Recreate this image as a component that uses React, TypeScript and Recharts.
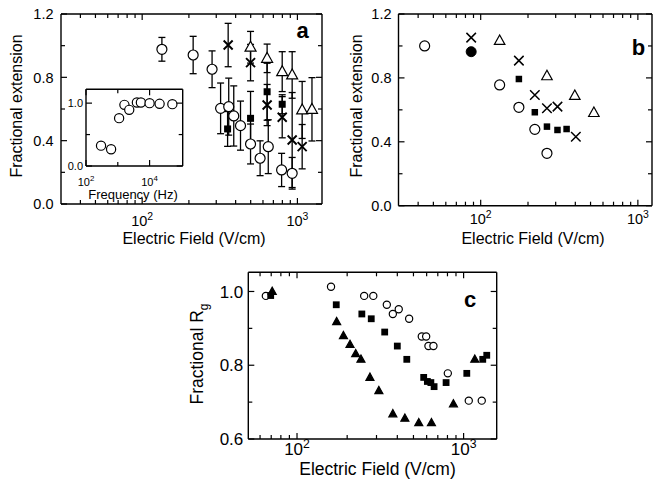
import React from 'react';
import { ScatterChart, Scatter, XAxis, YAxis, ErrorBar, ReferenceLine } from 'recharts';

const FONT = '"Liberation Sans", Arial, Helvetica, sans-serif';
const W = 654;
const H = 492;

// panel a: fractional extension vs field, with error bars
const aCircleField = [134, 213, 282, 320, 361, 389, 430, 499, 575, 649, 791, 925];
const aCircleExt = [0.977, 0.941, 0.851, 0.604, 0.615, 0.556, 0.495, 0.379, 0.289, 0.362, 0.215, 0.194];
const aCircleErr = [0.075, 0.118, 0.116, 0.16, 0.18, 0.19, 0.155, 0.126, 0.11, 0.17, 0.105, 0.1];
const aSquareField = [355, 499, 638, 798];
const aSquareExt = [0.474, 0.541, 0.709, 0.63];
const aSquareErr = [0.11, 0.17, 0.18, 0.06];
const aCrossField = [358, 499, 638, 798, 925, 1073];
const aCrossExt = [1.004, 0.893, 0.625, 0.548, 0.404, 0.362];
const aCrossErr = [0.137, 0.115, 0.13, 0.13, 0.3, 0.14];
const aTriField = [499, 638, 798, 925, 1073, 1241];
const aTriExt = [0.99, 0.92, 0.836, 0.815, 0.594, 0.598];
const aTriErr = [0.1, 0.09, 0.126, 0.147, 0.18, 0.2];

// inset: fractional extension vs frequency
const insetFreq = [297, 615, 1100, 1615, 2290, 3990, 5330, 10000, 20650, 52000];
const insetExt = [0.324, 0.266, 0.761, 0.973, 0.893, 1.01, 1.01, 1.0, 0.989, 0.984];

// panel b
const bCircleField = [44, 132, 175, 221, 264];
const bCircleExt = [1.0, 0.756, 0.616, 0.478, 0.328];
const bDotField = [87];
const bDotExt = [0.964];
const bCrossField = [87, 175, 221, 264, 308, 403];
const bCrossExt = [1.052, 0.908, 0.693, 0.61, 0.62, 0.432];
const bSquareField = [175, 221, 264, 308, 352];
const bSquareExt = [0.793, 0.585, 0.495, 0.474, 0.48];
const bTriField = [132, 264, 397, 525];
const bTriExt = [1.033, 0.812, 0.689, 0.582];

// panel c: fractional Rg
const cCircleField = [65, 160, 253, 287, 346, 376, 408, 471, 561, 596, 615, 659, 804, 1074, 1285];
const cCircleRg = [0.988, 1.013, 0.988, 0.988, 0.964, 0.939, 0.952, 0.926, 0.878, 0.878, 0.852, 0.852, 0.778, 0.704, 0.704];
const cSquareField = [69.5, 172, 245, 279, 336, 400, 456, 576, 606, 636, 665, 785, 1045, 1303, 1377];
const cSquareRg = [0.989, 0.964, 0.939, 0.926, 0.89, 0.852, 0.816, 0.767, 0.756, 0.753, 0.742, 0.753, 0.778, 0.816, 0.827];
const cTriField = [71, 173, 190, 208, 225, 242, 274, 310, 376, 444, 538, 641, 869, 1167];
const cTriRg = [1.0, 0.918, 0.88, 0.856, 0.831, 0.816, 0.767, 0.731, 0.668, 0.656, 0.644, 0.644, 0.695, 0.816];

// ticks
const abFieldTicks = [40, 50, 60, 70, 80, 90, 100, 200, 300, 400, 500, 600, 700, 800, 900, 1000];
const cFieldTicks = [60, 70, 80, 90, 100, 200, 300, 400, 500, 600, 700, 800, 900, 1000];
const decadeLabels = [100, 1000];
const extTicks = [0, 0.2, 0.4, 0.6, 0.8, 1.0, 1.2];
const extLabels = [0, 0.4, 0.8, 1.2];
const rgTicks = [0.6, 0.7, 0.8, 0.9, 1.0];
const rgLabels = [0.6, 0.8, 1.0];
const freqTicks = [100, 1000, 10000];
const freqLabels = [100, 10000];
const insetTicks = [0, 0.5, 1.0];
const insetLabels = [0, 1.0];

type Box = { left: number; top: number; right: number; bottom: number };

const zip = (xs: number[], ys: number[], es?: number[]) =>
  xs.map((x, i) => ({ x, y: ys[i], e: es ? es[i] : 0 }));

const logLabel = (v: number, x: number, y: number, fs: number) => {
  const exp = Math.round(Math.log10(v));
  return (
    <text x={x} y={y} textAnchor="middle" fontSize={fs} fontFamily={FONT} fill="#000">
      10<tspan dy={-fs * 0.42} fontSize={fs * 0.72}>{exp}</tspan>
    </text>
  );
};

const xTick = (box: Box, labels: number[], fs: number, dy: number, big = 6, small = 4) => (props: any) => {
  const { x, payload } = props;
  const v = payload.value;
  const len = labels.includes(v) ? big : small;
  return (
    <g>
      <line x1={x} x2={x} y1={box.bottom} y2={box.bottom - len} stroke="#000" strokeWidth={1.2} />
      <line x1={x} x2={x} y1={box.top} y2={box.top + len} stroke="#000" strokeWidth={1.2} />
      {labels.includes(v) ? logLabel(v, x, box.bottom + dy, fs) : null}
    </g>
  );
};

const yTick = (box: Box, labels: number[], fs: number, gap: number, big = 6, small = 4) => (props: any) => {
  const { y, payload } = props;
  const v = payload.value;
  const len = labels.includes(v) ? big : small;
  return (
    <g>
      <line x1={box.left} x2={box.left + len} y1={y} y2={y} stroke="#000" strokeWidth={1.2} />
      <line x1={box.right} x2={box.right - len} y1={y} y2={y} stroke="#000" strokeWidth={1.2} />
      {labels.includes(v) ? (
        <text x={box.left - gap} y={y + fs * 0.36} textAnchor="end" fontSize={fs} fontFamily={FONT} fill="#000">
          {v.toFixed(1)}
        </text>
      ) : null}
    </g>
  );
};

const openCircle = (r: number) => (p: any) => (
  <circle cx={p.cx} cy={p.cy} r={r} fill="#fff" stroke="#000" strokeWidth={1.2} />
);
const dot = (r: number) => (p: any) => (
  <circle cx={p.cx} cy={p.cy} r={r} fill="#000" stroke="#000" strokeWidth={1} />
);
const square = (s: number) => (p: any) => (
  <rect x={p.cx - s / 2} y={p.cy - s / 2} width={s} height={s} fill="#000" />
);
const openTri = (w: number, fill = '#fff') => (p: any) => {
  const h = w * 0.9;
  const pts = `${p.cx},${p.cy - h * 0.6} ${p.cx - w / 2},${p.cy + h * 0.4} ${p.cx + w / 2},${p.cy + h * 0.4}`;
  return <polygon points={pts} fill={fill} stroke="#000" strokeWidth={1.2} />;
};
const cross = (s: number, sw: number) => (p: any) => {
  const h = s / 2;
  return (
    <path
      d={`M${p.cx - h},${p.cy - h}L${p.cx + h},${p.cy + h}M${p.cx - h},${p.cy + h}L${p.cx + h},${p.cy - h}`}
      stroke="#000"
      strokeWidth={sw}
      fill="none"
    />
  );
};

type PanelProps = {
  box: Box;
  xDomain: [number, number];
  yDomain: [number, number];
  xTicks: number[];
  xLabels: number[];
  yTicks: number[];
  yLabels: number[];
  fs: number;
  xdy: number;
  ygap: number;
  children: React.ReactNode;
};

const Panel = ({ box, xDomain, yDomain, xTicks, xLabels, yTicks, yLabels, fs, xdy, ygap, children }: PanelProps) => (
  <div style={{ position: 'absolute', left: 0, top: 0 }}>
    <ScatterChart
      width={W}
      height={H}
      margin={{ top: box.top, left: box.left - 40, right: W - box.right, bottom: H - box.bottom - 30 }}
    >
      <XAxis
        type="number"
        dataKey="x"
        scale="log"
        domain={xDomain}
        allowDataOverflow
        ticks={xTicks}
        interval={0}
        tickLine={false}
        tickSize={0}
        height={30}
        axisLine={{ stroke: '#000', strokeWidth: 1.4 }}
        tick={xTick(box, xLabels, fs, xdy)}
      />
      <YAxis
        type="number"
        dataKey="y"
        domain={yDomain}
        allowDataOverflow
        ticks={yTicks}
        interval={0}
        tickLine={false}
        tickSize={0}
        width={40}
        axisLine={{ stroke: '#000', strokeWidth: 1.4 }}
        tick={yTick(box, yLabels, fs, ygap)}
      />
      <ReferenceLine y={yDomain[1]} stroke="#000" strokeWidth={1.4} />
      <ReferenceLine x={xDomain[1]} stroke="#000" strokeWidth={1.4} />
      {children}
    </ScatterChart>
  </div>
);

const boxA: Box = { left: 61, top: 14, right: 322, bottom: 204 };
const boxInset: Box = { left: 86, top: 89.3, right: 182.7, bottom: 166 };
const boxB: Box = { left: 398.5, top: 14, right: 652, bottom: 205.7 };
const boxC: Box = { left: 248.3, top: 272.3, right: 496.7, bottom: 439 };

const bar = <ErrorBar dataKey="e" direction="y" width={3.5} stroke="#000" strokeWidth={1.3} />;

export default function App() {
  return (
    <div style={{ position: 'absolute', left: 0, top: 0, width: W, height: H, background: '#fff' }}>
      <Panel box={boxA} xDomain={[30, 1440]} yDomain={[0, 1.2]} xTicks={abFieldTicks} xLabels={decadeLabels}
        yTicks={extTicks} yLabels={extLabels} fs={14.5} xdy={22} ygap={7.5}>
        <Scatter data={zip(aCircleField, aCircleExt, aCircleErr)} shape={openCircle(5)} isAnimationActive={false}>{bar}</Scatter>
        <Scatter data={zip(aSquareField, aSquareExt, aSquareErr)} shape={square(7)} isAnimationActive={false}>{bar}</Scatter>
        <Scatter data={zip(aCrossField, aCrossExt, aCrossErr)} shape={cross(9, 1.9)} isAnimationActive={false}>{bar}</Scatter>
        <Scatter data={zip(aTriField, aTriExt, aTriErr)} shape={openTri(11)} isAnimationActive={false}>{bar}</Scatter>
      </Panel>

      <Panel box={boxInset} xDomain={[100, 110000]} yDomain={[0, 1.22]} xTicks={freqTicks} xLabels={freqLabels}
        yTicks={insetTicks} yLabels={insetLabels} fs={11} xdy={19.5} ygap={3}>
        <Scatter data={zip(insetFreq, insetExt)} shape={openCircle(4.6)} isAnimationActive={false} />
      </Panel>

      <Panel box={boxB} xDomain={[30, 1230]} yDomain={[0, 1.2]} xTicks={abFieldTicks} xLabels={decadeLabels}
        yTicks={extTicks} yLabels={extLabels} fs={14.5} xdy={18.5} ygap={7}>
        <Scatter data={zip(bCircleField, bCircleExt)} shape={openCircle(5)} isAnimationActive={false} />
        <Scatter data={zip(bDotField, bDotExt)} shape={dot(5)} isAnimationActive={false} />
        <Scatter data={zip(bCrossField, bCrossExt)} shape={cross(9.5, 1.5)} isAnimationActive={false} />
        <Scatter data={zip(bSquareField, bSquareExt)} shape={square(6.5)} isAnimationActive={false} />
        <Scatter data={zip(bTriField, bTriExt)} shape={openTri(10.5)} isAnimationActive={false} />
      </Panel>

      <Panel box={boxC} xDomain={[51, 1580]} yDomain={[0.6, 1.052]} xTicks={cFieldTicks} xLabels={decadeLabels}
        yTicks={rgTicks} yLabels={rgLabels} fs={17} xdy={16} ygap={5}>
        <Scatter data={zip(cCircleField, cCircleRg)} shape={openCircle(3.6)} isAnimationActive={false} />
        <Scatter data={zip(cSquareField, cSquareRg)} shape={square(6.8)} isAnimationActive={false} />
        <Scatter data={zip(cTriField, cTriRg)} shape={openTri(8, '#000')} isAnimationActive={false} />
      </Panel>

      <svg width={W} height={H} style={{ position: 'absolute', left: 0, top: 0, pointerEvents: 'none' }}
        fontFamily={FONT} fill="#000">
        <text transform="translate(22,106) rotate(-90)" textAnchor="middle" fontSize={16}>Fractional extension</text>
        <text x={194} y={244} textAnchor="middle" fontSize={16}>Electric Field (V/cm)</text>
        <text x={302.5} y={37.5} textAnchor="middle" fontSize={22} fontWeight="bold">a</text>
        <text x={133} y={198.5} textAnchor="middle" fontSize={13}>Frequency (Hz)</text>

        <text transform="translate(361.7,106) rotate(-90)" textAnchor="middle" fontSize={16}>Fractional extension</text>
        <text x={533} y={244} textAnchor="middle" fontSize={16}>Electric Field (V/cm)</text>
        <text x={638.5} y={55} textAnchor="middle" fontSize={22} fontWeight="bold">b</text>

        <text transform="translate(203,354) rotate(-90)" textAnchor="middle" fontSize={17.5}>
          Fractional R<tspan dy={5} fontSize={12}>g</tspan>
        </text>
        <text x={377.5} y={474.5} textAnchor="middle" fontSize={17.5}>Electric Field (V/cm)</text>
        <text x={470} y={306.5} textAnchor="middle" fontSize={22} fontWeight="bold">c</text>
      </svg>
    </div>
  );
}
